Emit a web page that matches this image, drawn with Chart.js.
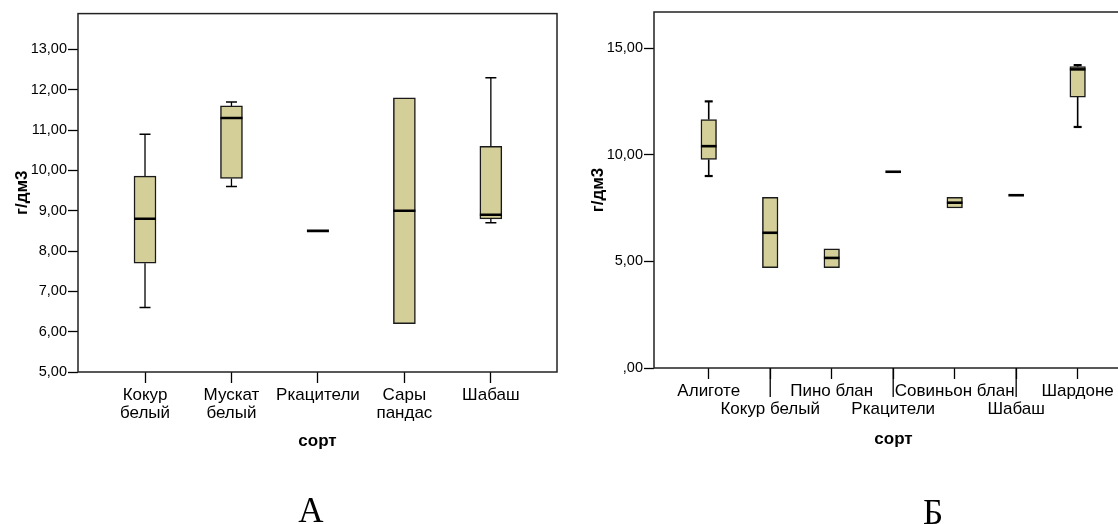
<!DOCTYPE html>
<html><head><meta charset="utf-8">
<script src="https://cdn.jsdelivr.net/npm/chart.js@4.4.1/dist/chart.umd.min.js"></script>
<style>
html,body{margin:0;padding:0;background:#fff;width:1118px;height:524px;overflow:hidden;position:relative;}
#wa{position:absolute;left:0;top:0;width:580px;height:524px;}
#wb{position:absolute;left:575px;top:0;width:600px;height:524px;}
.lbl{position:absolute;font-family:"Liberation Serif","Times New Roman",serif;font-size:35px;color:#000;transform:translate(-50%,-50%);line-height:1;}
</style></head><body>
<div id="wa"><canvas id="ca" width="580" height="524"></canvas></div>
<div id="wb"><canvas id="cb" width="600" height="524"></canvas></div>
<div class="lbl" style="left:311px;top:510px">А</div>
<div class="lbl" style="left:933px;top:512px">Б</div>
<script>
// ---- Chart A data ----
const catsA   = ['Кокур белый', 'Мускат белый', 'Ркацители', 'Сары пандас', 'Шабаш'];
const minA    = [6.6, 9.6, 8.5, 6.2, 8.7];
const q1A     = [7.7, 9.8, 8.5, 6.2, 8.8];
const medA    = [8.8, 11.3, 8.5, 9.0, 8.9];
const q3A     = [9.86, 11.6, 8.5, 11.8, 10.6];
const maxA    = [10.9, 11.7, 8.5, 11.8, 12.3];
const yTicksA = [5, 6, 7, 8, 9, 10, 11, 12, 13];

// ---- Chart B data ----
const catsB   = ['Алиготе', 'Кокур белый', 'Пино блан', 'Ркацители', 'Совиньон блан', 'Шабаш', 'Шардоне'];
const minB    = [9.0, 4.7, 4.7, 9.2, 7.5, 8.1, 11.3];
const q1B     = [9.78, 4.7, 4.7, 9.2, 7.5, 8.1, 12.7];
const medB    = [10.4, 6.34, 5.16, 9.2, 7.75, 8.1, 14.0];
const q3B     = [11.65, 8.0, 5.59, 9.2, 8.0, 8.1, 14.13];
const maxB    = [12.5, 8.0, 5.59, 9.2, 8.0, 8.1, 14.2];
const yTicksB = [0, 5, 10, 15];

const FAM = '"Liberation Sans", Arial, Helvetica, sans-serif';

function fmtNum(v) {
  let s = Number(v).toFixed(2).replace('.', ',');
  if (s.startsWith('0,')) s = s.slice(1);
  return s;
}

function buildDatasets(cats, mins, q1s, meds, q3s, maxs, st) {
  const idx = cats.map((c, i) => i);
  const boxes = idx.filter(i => q3s[i] > q1s[i]).map(i => ({x: i, y: [q1s[i], q3s[i]]}));
  const whisk = [], caps = [];
  idx.forEach(i => {
    if (maxs[i] > q3s[i]) { whisk.push({x: i, y: q3s[i]}, {x: i, y: maxs[i]}, {x: i, y: null}); caps.push({x: i, y: maxs[i]}); }
    if (mins[i] < q1s[i]) { whisk.push({x: i, y: mins[i]}, {x: i, y: q1s[i]}, {x: i, y: null}); caps.push({x: i, y: mins[i]}); }
  });
  const medPts = idx.map(i => ({x: i, y: meds[i]}));
  return [
    {type: 'line', data: medPts, showLine: false, pointStyle: 'line', pointRadius: st.medR, pointBorderWidth: st.medW, pointBorderColor: '#000', pointBackgroundColor: '#000'},
    {type: 'line', data: caps, showLine: false, pointStyle: 'line', pointRadius: st.capR, pointBorderWidth: st.capW, pointBorderColor: '#000', pointBackgroundColor: '#000'},
    {type: 'line', data: whisk, showLine: true, spanGaps: false, borderColor: '#000', borderWidth: st.wW, pointRadius: 0, fill: false, tension: 0},
    {type: 'bar', data: boxes, backgroundColor: '#d4cf99', borderColor: '#1a1a1a', borderWidth: st.boxW, borderSkipped: false, barThickness: st.boxT, grouped: false}
  ];
}

const framePlugin = {
  id: 'frame',
  beforeDatasetsDraw(chart) {
    const {ctx, chartArea: a} = chart;
    ctx.save();
    ctx.strokeStyle = '#222';
    ctx.lineWidth = 1.5;
    ctx.strokeRect(a.left, a.top, a.right - a.left, a.bottom - a.top);
    ctx.restore();
  }
};

function makeChart(id, cats, dsets, o) {
  return new Chart(document.getElementById(id), {
    type: 'bar',
    data: {datasets: dsets},
    options: {
      responsive: false, animation: false, events: [],
      layout: {padding: {left: 0, top: 12, right: o.padRight, bottom: 0}},
      plugins: {legend: {display: false}, tooltip: {enabled: false}},
      scales: {
        x: {
          type: 'linear', min: o.xMin, max: o.xMax, offset: false,
          afterBuildTicks: s => { s.ticks = cats.map((c, i) => ({value: i})); },
          afterFit: s => { s.height = o.xH; },
          ticks: {callback: (v) => o.xLabel(Math.round(v)), font: {family: FAM, size: 17, lineHeight: 1.05}, color: '#000', padding: o.xPad, maxRotation: 0, minRotation: 0, autoSkip: false},
          grid: {offset: false, drawOnChartArea: false, drawTicks: true, tickLength: 11, tickColor: '#000', tickWidth: 1.3},
          border: {display: false},
          title: {display: true, text: 'сорт', color: '#000', font: {family: FAM, size: 17, weight: 'bold', lineHeight: 1.2}, padding: {top: 0, bottom: o.xTitlePad}}
        },
        y: {
          type: 'linear', min: o.yMin, max: o.yMax,
          afterBuildTicks: s => { s.ticks = o.yTicks.map(v => ({value: v})); },
          afterFit: s => { s.width = o.yW; },
          ticks: {callback: v => fmtNum(v), font: {family: FAM, size: 14.5}, color: '#000', padding: 1},
          grid: {drawOnChartArea: false, drawTicks: true, tickLength: 10, tickColor: '#000', tickWidth: 1.3},
          border: {display: false},
          title: {display: true, text: 'г/дм3', color: '#000', font: {family: FAM, size: 17, weight: 'bold', lineHeight: 1.2}, padding: {top: o.yTitlePad, bottom: 0}}
        }
      }
    },
    plugins: [framePlugin].concat(o.extraPlugins || [])
  });
}

makeChart('ca', catsA,
  buildDatasets(catsA, minA, q1A, medA, q3A, maxA, {medR: 11, medW: 2.6, capR: 5.5, capW: 1.5, wW: 1.3, boxW: 1.5, boxT: 22}),
  {padRight: 23, xMin: -0.775, xMax: 4.765, xH: 152, xPad: 3.1, xTitlePad: 72.8,
   yMin: 5, yMax: 13.89, yTicks: yTicksA, yW: 78, yTitlePad: 11.8,
   xLabel: i => catsA[i].split(' ')});

const longTicks = {
  id: 'longTicks',
  afterDraw(chart) {
    const {ctx, chartArea: a} = chart;
    const xs = chart.scales.x;
    ctx.save();
    ctx.strokeStyle = '#000';
    ctx.lineWidth = 1.3;
    catsB.forEach((c, i) => {
      if (i % 2 === 1) {
        const px = xs.getPixelForValue(i);
        ctx.beginPath(); ctx.moveTo(px, a.bottom); ctx.lineTo(px, a.bottom + 29); ctx.stroke();
      }
    });
    ctx.restore();
  }
};

makeChart('cb', catsB,
  buildDatasets(catsB, minB, q1B, medB, q3B, maxB, {medR: 7.8, medW: 2.6, capR: 4, capW: 2.2, wW: 1.6, boxW: 1.5, boxT: 15.6}),
  {padRight: 42, xMin: -0.89, xMax: 6.9, xH: 156, xPad: 3.8, xTitlePad: 74.8,
   yMin: 0, yMax: 16.69, yTicks: yTicksB, yW: 79, yTitlePad: 12.8,
   xLabel: i => (i % 2 === 1 ? ['', catsB[i]] : [catsB[i]]),
   extraPlugins: [longTicks]});
</script>
</body></html>
